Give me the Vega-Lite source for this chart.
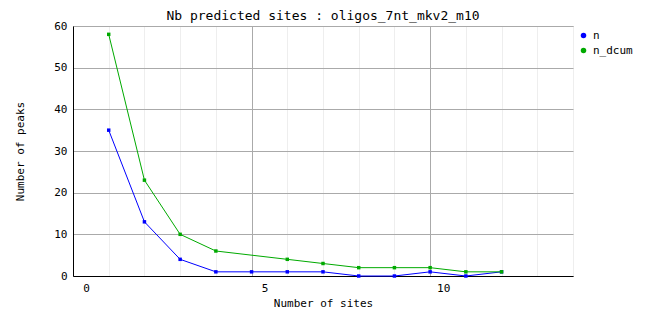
{
  "$schema": "https://vega.github.io/schema/vega-lite/v6.json",
  "width": 500,
  "height": 250,
  "autosize": {"type": "none"},
  "padding": {"left": 73, "top": 26, "right": 89, "bottom": 52},
  "background": "white",
  "title": {"text": "Nb predicted sites : oligos_7nt_mkv2_m10", "font": "DejaVu Sans Mono", "fontSize": 13, "fontWeight": "normal", "color": "#000", "offset": -3, "anchor": "middle"},
  "config": {
    "view": {"stroke": "#aaaaaa", "strokeWidth": 1},
    "font": "DejaVu Sans Mono"
  },
  "data": {"values": [
    {"sites": 1, "peaks": 35, "series": "n"},
    {"sites": 2, "peaks": 13, "series": "n"},
    {"sites": 3, "peaks": 4, "series": "n"},
    {"sites": 4, "peaks": 1, "series": "n"},
    {"sites": 5, "peaks": 1, "series": "n"},
    {"sites": 6, "peaks": 1, "series": "n"},
    {"sites": 7, "peaks": 1, "series": "n"},
    {"sites": 8, "peaks": 0, "series": "n"},
    {"sites": 9, "peaks": 0, "series": "n"},
    {"sites": 10, "peaks": 1, "series": "n"},
    {"sites": 11, "peaks": 0, "series": "n"},
    {"sites": 12, "peaks": 1, "series": "n"},
    {"sites": 1, "peaks": 58, "series": "n_dcum"},
    {"sites": 2, "peaks": 23, "series": "n_dcum"},
    {"sites": 3, "peaks": 10, "series": "n_dcum"},
    {"sites": 4, "peaks": 6, "series": "n_dcum"},
    {"sites": 6, "peaks": 4, "series": "n_dcum"},
    {"sites": 7, "peaks": 3, "series": "n_dcum"},
    {"sites": 8, "peaks": 2, "series": "n_dcum"},
    {"sites": 9, "peaks": 2, "series": "n_dcum"},
    {"sites": 10, "peaks": 2, "series": "n_dcum"},
    {"sites": 11, "peaks": 1, "series": "n_dcum"},
    {"sites": 12, "peaks": 1, "series": "n_dcum"}
  ]},
  "encoding": {
    "x": {
      "field": "sites", "type": "quantitative",
      "scale": {"domain": [0, 14], "nice": false, "zero": false},
      "axis": {
        "values": [0,1,2,3,4,5,6,7,8,9,10,11,12,13,14],
        "labelExpr": "datum.value % 5 === 0 ? datum.label : ''",
        "grid": true,
        "gridColor": {"condition": {"test": "datum.value % 5 === 0", "value": "#aaaaaa"}, "value": "#eeeeee"},
        "gridWidth": 1,
        "ticks": false,
        "domainColor": "#000000",
        "labelFlush": false,
        "labelAlign": "center",
        "labelOffset": 13,
        "labelPadding": 6,
        "labelFont": "DejaVu Sans Mono", "labelFontSize": 11, "labelColor": "#000",
        "title": "Number of sites",
        "titleFont": "DejaVu Sans Mono", "titleFontSize": 11, "titleFontWeight": "normal", "titleColor": "#000",
        "titlePadding": 4
      }
    },
    "y": {
      "field": "peaks", "type": "quantitative",
      "scale": {"domain": [0, 60], "nice": false},
      "axis": {
        "values": [0,10,20,30,40,50,60],
        "grid": true, "gridColor": "#aaaaaa",
        "ticks": false,
        "domainColor": "#000000",
        "labelPadding": 6,
        "labelFont": "DejaVu Sans Mono", "labelFontSize": 11, "labelColor": "#000",
        "title": "Number of peaks",
        "titleFont": "DejaVu Sans Mono", "titleFontSize": 11, "titleFontWeight": "normal", "titleColor": "#000",
        "titlePadding": 28
      }
    },
    "color": {
      "field": "series", "type": "nominal",
      "scale": {"domain": ["n", "n_dcum"], "range": ["#0000ff", "#00aa00"]},
      "legend": {
        "title": null, "orient": "none", "legendX": 505, "legendY": 4,
        "symbolType": "circle", "symbolSize": 30, "symbolStrokeWidth": 0,
        "labelFont": "DejaVu Sans Mono", "labelFontSize": 11, "labelColor": "#000",
        "rowPadding": 3
      }
    }
  },
  "layer": [
    {"mark": {"type": "line", "strokeWidth": 1}},
    {"mark": {"type": "point", "shape": "square", "filled": true, "size": 12, "opacity": 1}}
  ]
}
